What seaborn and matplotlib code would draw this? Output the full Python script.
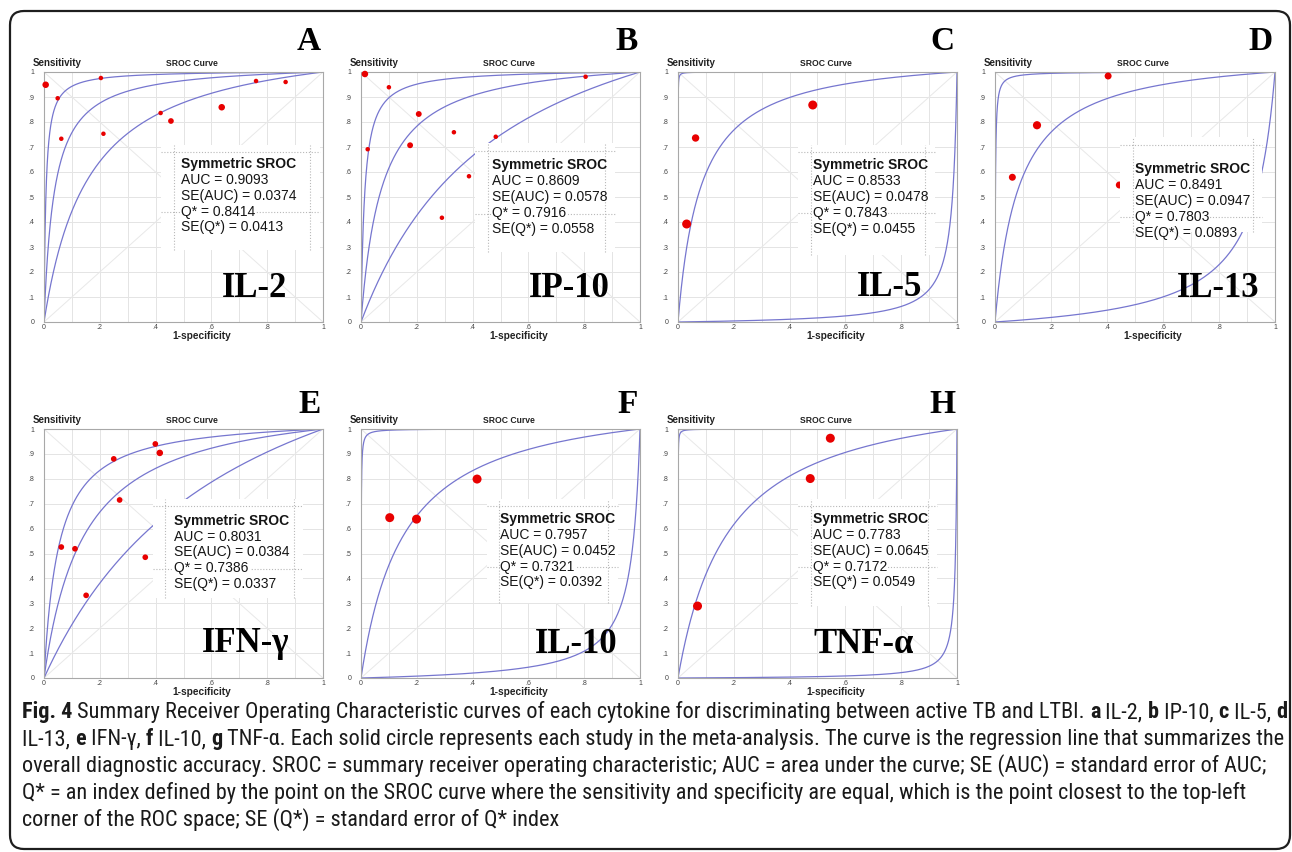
import numpy as np
import pandas as pd
import matplotlib
matplotlib.use("Agg")
import matplotlib.pyplot as plt
from matplotlib.patches import FancyBboxPatch, Rectangle
from matplotlib.ticker import FixedLocator, FuncFormatter
from matplotlib import font_manager
import seaborn as sns

# ---------------- data ----------------
panel_letters = ["A", "B", "C", "D", "E", "F", "H"]
cytokines = ["IL-2", "IP-10", "IL-5", "IL-13", "IFN-γ", "IL-10", "TNF-α"]
auc = [0.9093, 0.8609, 0.8533, 0.8491, 0.8031, 0.7957, 0.7783]
se_auc = [0.0374, 0.0578, 0.0478, 0.0947, 0.0384, 0.0452, 0.0645]
q_star = [0.8414, 0.7916, 0.7843, 0.7803, 0.7386, 0.7321, 0.7172]
se_q = [0.0413, 0.0558, 0.0455, 0.0893, 0.0337, 0.0392, 0.0549]
# ln(DOR) of the upper / lower bound curves
ln_dor_upper = [5.0, 4.36, 9.3, 6.6, 3.0, 7.5, 8.9]
ln_dor_lower = [1.97, 1.09, -4.1, -2.6, 0.9, -3.5, -5.2]

il2_fpr = [0.006, 0.049, 0.062, 0.204, 0.213, 0.418, 0.455, 0.637, 0.760, 0.866]
il2_tpr = [0.949, 0.895, 0.733, 0.976, 0.753, 0.836, 0.804, 0.859, 0.964, 0.960]
il2_wt = [2.1, 1, 1, 1, 1, 1, 1.6, 2.1, 1, 1]

ip10_fpr = [0.014, 0.100, 0.024, 0.207, 0.176, 0.333, 0.483, 0.387, 0.290, 0.805]
ip10_tpr = [0.992, 0.939, 0.691, 0.832, 0.707, 0.759, 0.741, 0.583, 0.417, 0.981]
ip10_wt = [2.1, 1, 1, 1.7, 1.7, 1, 1, 1, 1, 1]

il5_fpr = [0.483, 0.063, 0.031]
il5_tpr = [0.868, 0.736, 0.392]
il5_wt = [4, 2.7, 4]

il13_fpr = [0.404, 0.150, 0.062, 0.444]
il13_tpr = [0.984, 0.787, 0.579, 0.548]
il13_wt = [2.4, 3.3, 2.4, 2.4]

ifng_fpr = [0.399, 0.415, 0.250, 0.271, 0.062, 0.111, 0.363, 0.151]
ifng_tpr = [0.940, 0.904, 0.880, 0.715, 0.526, 0.519, 0.485, 0.332]
ifng_wt = [1.6, 2.1, 1.6, 1.6, 1.6, 1.6, 1.6, 1.6]

il10_fpr = [0.416, 0.103, 0.199]
il10_tpr = [0.799, 0.644, 0.638]
il10_wt = [4, 4, 4]

tnfa_fpr = [0.546, 0.474, 0.070]
tnfa_tpr = [0.963, 0.801, 0.289]
tnfa_wt = [4, 4, 4]

study_fpr = [il2_fpr, ip10_fpr, il5_fpr, il13_fpr, ifng_fpr, il10_fpr, tnfa_fpr]
study_tpr = [il2_tpr, ip10_tpr, il5_tpr, il13_tpr, ifng_tpr, il10_tpr, tnfa_tpr]
study_wt = [il2_wt, ip10_wt, il5_wt, il13_wt, ifng_wt, il10_wt, tnfa_wt]

caption_lines = [
    [("Fig. 4", True),
     (" Summary Receiver Operating Characteristic curves of each cytokine for discriminating between active TB and LTBI. ", False),
     ("a", True), (" IL-2, ", False), ("b", True), (" IP-10, ", False), ("c", True), (" IL-5, ", False), ("d", True)],
    [("IL-13, ", False), ("e", True), (" IFN-γ, ", False), ("f", True), (" IL-10, ", False), ("g", True),
     (" TNF-α. Each solid circle represents each study in the meta-analysis. The curve is the regression line that summarizes the", False)],
    [("overall diagnostic accuracy. SROC = summary receiver operating characteristic; AUC = area under the curve; SE (AUC) = standard error of AUC;", False)],
    [("Q* = an index defined by the point on the SROC curve where the sensitivity and specificity are equal, which is the point closest to the top-left", False)],
    [("corner of the ROC space; SE (Q*) = standard error of Q* index", False)],
]

# ---------------- layout (not data) ----------------
box_rect = [(0.42, 0.29, 0.99, 0.71), (0.41, 0.28, 0.91, 0.715), (0.43, 0.27, 0.92, 0.71),
            (0.447, 0.36, 0.955, 0.74), (0.39, 0.32, 0.93, 0.72), (0.45, 0.30, 0.92, 0.72),
            (0.43, 0.29, 0.93, 0.72)]
text_anchor = [(0.491, 0.616), (0.471, 0.610), (0.483, 0.612), (0.500, 0.596),
               (0.467, 0.615), (0.500, 0.622), (0.483, 0.622)]
name_anchor = [(0.871, 0.10), (0.89, 0.10), (0.875, 0.105), (0.944, 0.10),
               (0.88, 0.105), (0.919, 0.10), (0.845, 0.10)]

sns.set_theme(style="white")
plt.rcParams['font.family'] = ['Liberation Sans', 'DejaVu Sans']
SERIF = ['Liberation Serif', 'DejaVu Serif']
CURVE = '#7676cf'
DOT = '#e80000'

def expit(x):
    return 1.0 / (1.0 + np.exp(-x))

def logit(p):
    return np.log(p / (1 - p))

W, H = 1292, 852
fig = plt.figure(figsize=(W / 100, H / 100), dpi=100)
fig.patch.set_facecolor('white')
bg = fig.add_axes([0, 0, 1, 1], zorder=-1)
bg.set_xlim(0, W)
bg.set_ylim(H, 0)
bg.axis('off')

bg.add_patch(FancyBboxPatch((10, 11), 1280, 838, boxstyle="round,pad=0,rounding_size=14",
                            fc='none', ec='#1e1e1e', lw=1.6))

col_x = [44, 361, 678, 995]
col_w = [279, 279, 279, 280]
row_top = [72, 429]
row_h = [250, 249]
letter_base = [50, 413]

fmt = FuncFormatter(lambda v, _: '0' if v < 1e-9 else ('1' if v > 0.999 else ('%.1f' % v)[1:]))

for i in range(7):
    r, c = divmod(i, 4)
    ax = fig.add_axes([col_x[c] / W, 1 - (row_top[r] + row_h[r]) / H, col_w[c] / W, row_h[r] / H])
    ax.set_facecolor('white')
    ax.set_xlim(0, 1)
    ax.set_ylim(0, 1)
    ax.xaxis.set_major_locator(FixedLocator([0, 0.2, 0.4, 0.6, 0.8, 1.0]))
    ax.xaxis.set_minor_locator(FixedLocator([0.1, 0.3, 0.5, 0.7, 0.9]))
    ax.yaxis.set_major_locator(FixedLocator(list(np.round(np.arange(0, 1.01, 0.1), 1))))
    ax.xaxis.set_major_formatter(fmt)
    ax.yaxis.set_major_formatter(fmt)
    ax.grid(True, which='both', color='#e4e4e4', lw=0.7)
    ax.set_axisbelow(True)
    ax.tick_params(which='both', length=0)
    ax.tick_params(axis='x', labelsize=5, pad=1.5, labelcolor='#444')
    ax.tick_params(axis='y', labelsize=5, pad=7, labelcolor='#444')
    for sp in ax.spines.values():
        sp.set_visible(True)
        sp.set_color('#a8a8a8')
        sp.set_linewidth(0.8)
    ax.plot([0, 1], [0, 1], color='#e8e8e8', lw=0.7, zorder=1)
    ax.plot([0, 1], [1, 0], color='#e8e8e8', lw=0.7, zorder=1)

    # SROC curve and bounds
    t = np.linspace(-16, 16, 1601)
    parts = []
    for name, a in (('upper', ln_dor_upper[i]), ('sroc', 2 * logit(q_star[i])), ('lower', ln_dor_lower[i])):
        fpr = np.concatenate([[0.0], expit(t), [1.0]])
        tpr = np.concatenate([[0.0], expit(t + a), [1.0]])
        parts.append(pd.DataFrame({'fpr': fpr, 'tpr': tpr, 'curve': name}))
    cdf = pd.concat(parts, ignore_index=True)
    sns.lineplot(data=cdf, x='fpr', y='tpr', units='curve', estimator=None, sort=False,
                 color=CURVE, lw=0.9, ax=ax, legend=False, zorder=2)

    pdf = pd.DataFrame({'fpr': study_fpr[i], 'tpr': study_tpr[i], 'w': study_wt[i]})
    sns.scatterplot(data=pdf, x='fpr', y='tpr', s=pdf['w'].to_numpy() * 10.5, color=DOT,
                    edgecolor='none', linewidth=0, ax=ax, legend=False, zorder=2.6, clip_on=False)

    # stats box
    bx0, by0, bx1, by1 = box_rect[i]
    ax.add_patch(Rectangle((bx0, by0), bx1 - bx0, by1 - by0, fc='white', ec='none', zorder=3))
    dk = dict(color='#b8b8b8', lw=0.8, ls=(0, (1, 1.6)), zorder=3.2)
    ax.plot([bx0, bx1], [by1 - 0.03] * 2, **dk)
    ax.plot([bx0 + 0.045] * 2, [by0, by1], **dk)
    ax.plot([bx1 - 0.035] * 2, [by0, by1], **dk)
    tx, tb = text_anchor[i]
    sp_y = 0.0635
    ax.plot([bx0, bx1], [tb - 3 * sp_y + 0.013] * 2, **dk)
    lines = [("Symmetric SROC", 'bold'), (f"AUC = {auc[i]:.4f}", 'normal'),
             (f"SE(AUC) = {se_auc[i]:.4f}", 'normal'), (f"Q* = {q_star[i]:.4f}", 'normal'),
             (f"SE(Q*) = {se_q[i]:.4f}", 'normal')]
    for k, (s, wt) in enumerate(lines):
        ax.text(tx, tb - k * sp_y, s, fontsize=10, fontweight=wt, ha='left', va='baseline',
                color='#151515', zorder=4,
                bbox=dict(fc='white', ec='none', pad=0.6) if k == 3 else None)

    gx, gy = name_anchor[i]
    ax.text(gx, gy, cytokines[i], ha='right', va='baseline', fontsize=25, fontweight='bold',
            family=SERIF, color='#000', zorder=5)

    ax.text(-0.04, 1.024, "Sensitivity", transform=ax.transAxes, ha='left', va='baseline',
            fontsize=7, fontweight='bold', color='#222')
    ax.text(0.53, 1.024, "SROC Curve", transform=ax.transAxes, ha='center', va='baseline',
            fontsize=6.2, fontweight='bold', color='#222')
    ax.text(0.565, -0.068, "1-specificity", transform=ax.transAxes, ha='center', va='baseline',
            fontsize=7.3, fontweight='bold', color='#222')
    ax.set_xlabel('')
    ax.set_ylabel('')

    bg.text(col_x[c] + col_w[c] - 2, letter_base[r], panel_letters[i], ha='right', va='baseline',
            fontsize=24, fontweight='bold', family=SERIF, color='#000')

# ---------------- caption ----------------
names = {f.name for f in font_manager.fontManager.ttflist}
cap_font = next((f for f in ['Liberation Sans Narrow', 'Roboto Condensed', 'Open Sans Condensed',
                             'Liberation Sans'] if f in names), 'DejaVu Sans')
renderer = fig.canvas.get_renderer()

def text_w(s, bold, size):
    def raw(txt):
        tt = bg.text(0, 0, txt, fontsize=size, fontweight='bold' if bold else 'normal',
                     family=[cap_font, 'DejaVu Sans'])
        w = tt.get_window_extent(renderer).width
        tt.remove()
        return w
    return raw("|" + s + "|") - raw("||")

base_size = 10
w1 = sum(text_w(s, b, base_size) for s, b in caption_lines[0])
cap_size = base_size * (1283 - 22) / w1
cap_base = [718, 745, 772, 799, 826]
for li, parts in enumerate(caption_lines):
    x = 22
    for s, b in parts:
        bg.text(x, cap_base[li], s, fontsize=cap_size, fontweight='bold' if b else 'normal',
                family=[cap_font, 'DejaVu Sans'], ha='left', va='baseline', color='#1a1a1a')
        x += text_w(s, b, cap_size)

fig.savefig("out.png", dpi=100, facecolor='white')
